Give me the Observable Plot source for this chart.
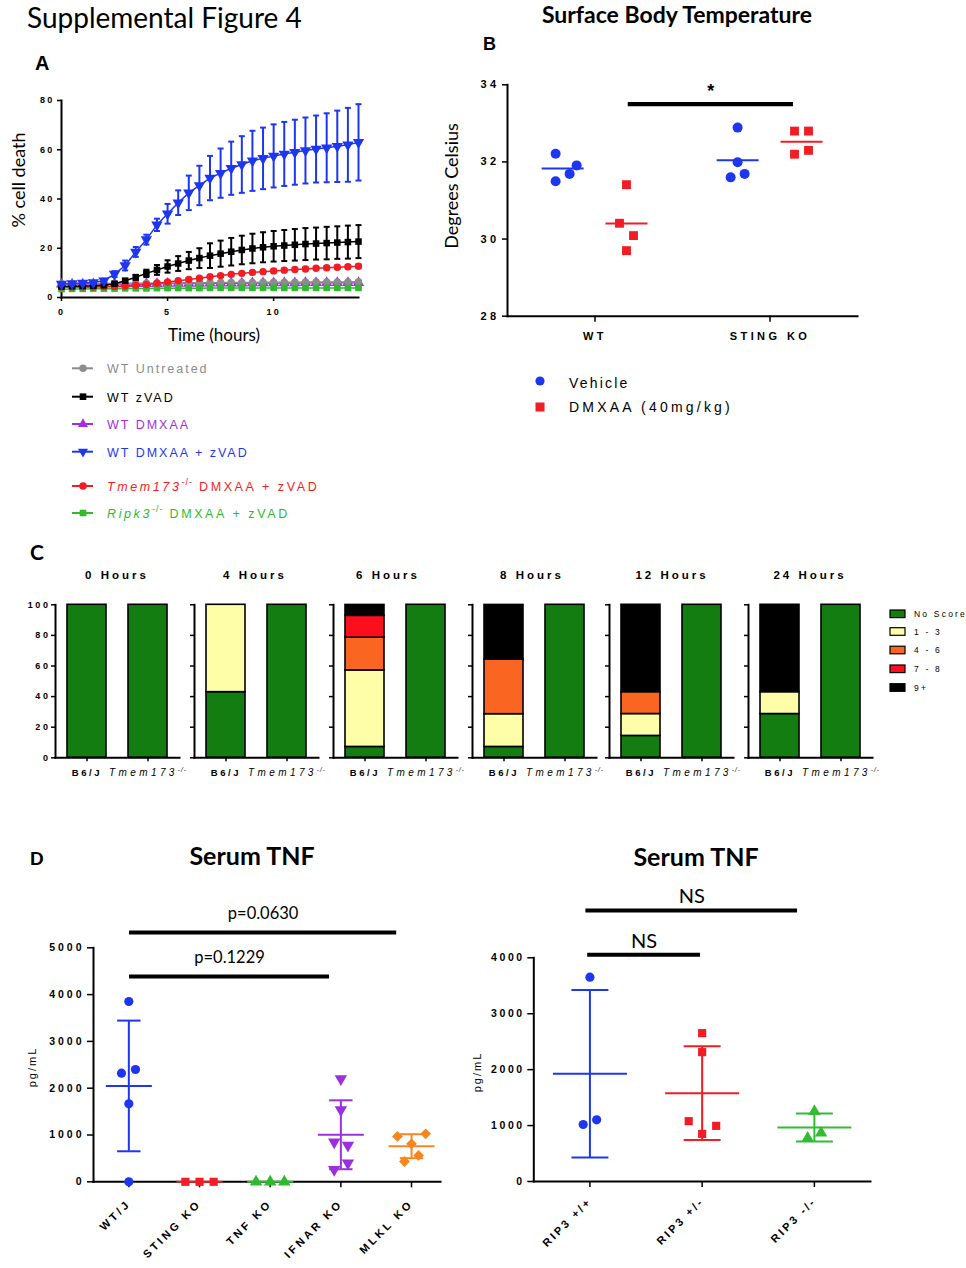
<!DOCTYPE html>
<html>
<head>
<meta charset="utf-8">
<script src="https://cdn.jsdelivr.net/npm/d3@7"></script>
<script src="https://cdn.jsdelivr.net/npm/@observablehq/plot@0.6"></script>
<style>
html,body{margin:0;padding:0;background:#fff;}
#page{position:relative;width:966px;height:1268px;overflow:hidden;background:#fff;}
</style>
</head>
<body>
<div id="page"></div>
<script>
const ARIAL = "'Liberation Sans', Arial, Helvetica, sans-serif";
const LATO = "Lato, 'Open Sans', sans-serif";

// ---------------- Panel A data ----------------
const hours = [0,0.5,1,1.5,2,2.5,3,3.5,4,4.5,5,5.5,6,6.5,7,7.5,8,8.5,9,9.5,10,10.5,11,11.5,12,12.5,13,13.5,14];
const seriesA = ["WT Untreated","WT zVAD","WT DMXAA","WT DMXAA + zVAD","Tmem173-/- DMXAA + zVAD","Ripk3-/- DMXAA + zVAD"];
const grayMean   = [5.6,5.6,5.6,5.7,5.7,5.7,5.8,5.8,5.8,5.9,5.9,5.9,6,6,6,6.1,6.1,6.1,6.1,6.2,6.2,6.2,6.2,6.3,6.3,6.3,6.3,6.3,6.4];
const blackMean  = [4.5,4.6,4.7,4.8,5,5.6,6.8,8.2,9.8,11.2,12.6,13.8,15,16,17,17.8,18.6,19.3,19.9,20.4,20.8,21.1,21.4,21.7,21.9,22.1,22.3,22.5,22.7];
const purpleMean = [5.4,5.4,5.4,5.5,5.5,5.5,5.5,5.6,5.6,5.6,5.7,5.7,5.7,5.7,5.8,5.8,5.8,5.8,5.9,5.9,5.9,5.9,5.9,6,6,6,6,6,6];
const blueMean   = [5.5,5.7,5.9,6.1,6.8,9.5,13,18.5,23.5,29.5,34,38.5,42.5,45.5,48.5,50.5,52.5,54,55.5,56.5,57.5,58.3,59,59.7,60.3,60.8,61.4,62,63];
const redMean    = [4.3,4.3,4.3,4.3,4.4,4.5,4.7,5,5.3,5.8,6.3,6.8,7.3,7.8,8.4,8.9,9.4,9.8,10.2,10.5,10.8,11.1,11.4,11.6,11.9,12.1,12.3,12.5,12.7];
const greenMean  = [3.4,3.5,3.5,3.6,3.6,3.6,3.7,3.7,3.7,3.8,3.8,3.8,3.8,3.8,3.9,3.9,3.9,3.9,3.9,3.9,3.9,3.9,3.9,3.9,3.9,3.9,3.9,3.9,3.9];
const blackSD    = [0.5,0.5,0.5,0.5,0.5,0.6,0.8,1,1.5,2,2.5,3,3.5,4,5,5.3,5.6,5.8,6,6.1,6.2,6.3,6.4,6.5,6.5,6.6,6.6,6.7,6.7];
const blueSD     = [0.6,0.6,0.6,0.6,0.8,1.2,2,2,2,2.5,4,5,7,8,9,10,10.8,11.5,12.2,12.5,12.8,13,13.2,13.4,13.6,14,14.5,15,15.5];
const redSD      = [0.3,0.3,0.3,0.3,0.3,0.3,0.3,0.3,0.3,0.3,0.4,0.4,0.4,0.4,0.4,0.5,0.5,0.5,0.5,0.5,0.6,0.6,0.6,0.6,0.6,0.7,0.7,0.7,0.7];
const lowSD      = [0.3,0.3,0.3,0.3,0.3,0.3,0.3,0.3,0.3,0.3,0.3,0.3,0.3,0.3,0.3,0.3,0.3,0.3,0.3,0.3,0.3,0.3,0.3,0.3,0.3,0.3,0.3,0.3,0.3];
const meansA = [grayMean, blackMean, purpleMean, blueMean, redMean, greenMean];
const sdsA = [lowSD, blackSD, lowSD, blueSD, redSD, lowSD];
const colorsA = ["#8c8c8c","#000000","#a32ee0","#1e36f0","#f21c24","#2fba2f"];
const symbolsA = ["circle","square","triangle","triangle","circle","square"];
const rotateA = [0,0,0,180,0,0];
const drawOrderA = [2,0,5,4,1,3];

// ---------------- Panel B data ----------------
const bGroups = ["WT","STING KO"];
const bTreatments = ["Vehicle","DMXAA (40mg/kg)"];
const bVehicle = [[32.21,31.91,31.69,31.5],[32.89,31.99,31.69,31.6]];
const bDmxaa   = [[31.41,30.41,30.09,29.70],[32.8,32.8,32.2,32.3]];
const bVehicleJitter = [[-0.04,0.08,0.04,-0.04],[0,0,0.04,-0.04]];
const bDmxaaJitter   = [[0,-0.04,0.04,0],[-0.04,0.04,-0.04,0.04]];
const bSigFrom = [1.19], bSigTo = [2.134], bSigAt = [33.5], bSigLabel = ["*"];

// ---------------- Panel C data ----------------
const cTimes = ["0 Hours","4 Hours","6 Hours","8 Hours","12 Hours","24 Hours"];
const cGenotypes = ["B6/J","Tmem173-/-"];
const cScores = ["No Score","1 - 3","4 - 6","7 - 8","9+"];
const b6Scores = [[100,0,0,0,0],[42.9,57.1,0,0,0],[7.1,50,21.4,14.3,7.1],[7.1,21.4,35.7,0,35.7],[14.3,14.3,14.3,0,57.1],[28.6,14.3,0,0,57.1]];
const tmemScores = [[100,0,0,0,0],[100,0,0,0,0],[100,0,0,0,0],[100,0,0,0,0],[100,0,0,0,0],[100,0,0,0,0]];
const cColors = ["#137d12","#fefea8","#fa6521","#fb0f1c","#000000"];

// ---------------- Panel D data ----------------
const dCats = ["WT/J","STING KO","TNF KO","IFNAR KO","MLKL KO"];
const dVals = [[3853,2400,2322,1667,0],[0,0,0],[0,0,0],[2200,1540,850,780,400,260],[969,1025,812,563,434]];
const dJitter = [[0,0.094,-0.104,0,0],[-0.2,0,0.2],[-0.2,0,0.2],[0,0,-0.094,0.1,0.1,-0.094],[-0.2,0.2,0,0.1,-0.1]];
const dSigFrom = [0.01,0.01], dSigTo = [2.84,3.79], dSigAt = [4387,5327], dSigLabel = ["p=0.1229","p=0.0630"];
const dColors = ["#1e36f0","#f21c24","#2dbb2d","#9b30de","#f7861e"];
const dSymbols = ["circle","square","triangle","triangle","square"];
const dRotate = [0,0,0,180,45];

const rCats = ["RIP3 +/+","RIP3 +/-","RIP3 -/-"];
const rVals = [[3654,1019,1103],[2653,2313,1079,995,852],[1252,870,775]];
const rJitter = [[0,-0.06,0.06],[0,0,-0.12,0.125,0],[0,0.06,-0.06]];
const rSigFrom = [-0.02,-0.036], rSigTo = [0.985,1.85], rSigAt = [4054,4846], rSigLabel = ["NS","NS"];
const rColors = ["#1e36f0","#f21c24","#33bb33"];
const rSymbols = ["circle","square","triangle"];

// ---------------- helpers ----------------
const page = document.getElementById("page");
const SVGNS = "http://www.w3.org/2000/svg";
const cap = {draw(ctx, size) { const r = Math.sqrt(size / Math.PI); ctx.moveTo(-r, 0); ctx.lineTo(r, 0); }};
const noteTexts = new Set([...bSigLabel, ...dSigLabel, ...rSigLabel]);

function place(box, frame, opts, extraStyle) {
  const svg = Plot.plot(Object.assign({
    width: box.width, height: box.height,
    marginLeft: frame.x0 - box.left,
    marginRight: box.left + box.width - frame.x1,
    marginTop: frame.y0 - box.top,
    marginBottom: box.top + box.height - frame.y1,
    style: Object.assign({position: "absolute", left: box.left + "px", top: box.top + "px",
      background: "transparent", overflow: "visible", fontFamily: ARIAL, fontWeight: "bold",
      color: "#000", maxWidth: "none"}, extraStyle || {})
  }, opts));
  svg.querySelectorAll("text").forEach(t => { if (noteTexts.has(t.textContent)) t.style.letterSpacing = "0px"; });
  page.appendChild(svg);
  return svg;
}

function sigRows(from, to, at, labels) {
  return from.map((f, i) => ({x1: f, x2: to[i], y: at[i], label: labels[i]}));
}

// ---------------- Panel A ----------------
{
  const marks = [Plot.frame({anchor: "left", strokeWidth: 2}), Plot.frame({anchor: "bottom", strokeWidth: 2}),
    Plot.axisY({ticks: [0,20,40,60,80], tickSize: 4, tickPadding: 3, label: null, strokeWidth: 1.5}),
    Plot.axisX({ticks: [0,5,10], tickSize: 4, tickPadding: 7, label: null, strokeWidth: 1.5})];
  drawOrderA.forEach(k => {
    const rows = hours.map((t, i) => ({t, m: meansA[k][i], sd: sdsA[k][i]}));
    const c = colorsA[k];
    marks.push(
      Plot.ruleX(rows, {x: "t", y1: d => d.m - d.sd, y2: d => d.m + d.sd, stroke: c, strokeWidth: 2}),
      Plot.dot(rows, {x: "t", y: d => d.m + d.sd, symbol: cap, r: 3, stroke: c, strokeWidth: 2, fill: "none"}),
      Plot.dot(rows, {x: "t", y: d => d.m - d.sd, symbol: cap, r: 3, stroke: c, strokeWidth: 2, fill: "none"}),
      Plot.line(rows, {x: "t", y: "m", stroke: c, strokeWidth: 1.5}),
      Plot.dot(rows, {x: "t", y: "m", symbol: symbolsA[k], rotate: rotateA[k], r: symbolsA[k] === "triangle" ? 4.2 : 3.7, fill: c, stroke: "none"})
    );
  });
  place({left: 0, top: 80, width: 370, height: 275}, {x0: 61, x1: 358, y0: 100, y1: 297}, {
    x: {type: "linear", domain: [0, 14]},
    y: {type: "linear", domain: [0, 80]},
    marks
  }, {fontSize: "9px", letterSpacing: "2.2px"});
}

// ---------------- Panel B ----------------
{
  const pts = [];
  bGroups.forEach((g, gi) => {
    bVehicle[gi].forEach((v, j) => pts.push({x: gi + 1 - 0.185 + bVehicleJitter[gi][j], y: v, t: 0}));
    bDmxaa[gi].forEach((v, j) => pts.push({x: gi + 1 + 0.18 + bDmxaaJitter[gi][j], y: v, t: 1}));
  });
  const means = [];
  bGroups.forEach((g, gi) => {
    means.push({x: gi + 1 - 0.185, y: d3.mean(bVehicle[gi]), t: 0});
    means.push({x: gi + 1 + 0.18, y: d3.mean(bDmxaa[gi]), t: 1});
  });
  const sig = sigRows(bSigFrom, bSigTo, bSigAt, bSigLabel);
  place({left: 440, top: 60, width: 430, height: 300}, {x0: 507, x1: 857, y0: 84.3, y1: 315.7}, {
    x: {type: "linear", domain: [0.5, 2.5]},
    y: {type: "linear", domain: [28, 34]},
    marks: [
      Plot.frame({anchor: "left", strokeWidth: 2}), Plot.frame({anchor: "bottom", strokeWidth: 2}),
      Plot.axisY({ticks: [28,30,32,34], tickFormat: d => String(d), tickSize: 5, tickPadding: 3, label: null, strokeWidth: 1.5}),
      Plot.axisX({ticks: [1,2], tickFormat: d => bGroups[d - 1], tickSize: 6, tickPadding: 10, label: null, strokeWidth: 1.5}),
      Plot.ruleY(sig, {x1: "x1", x2: "x2", y: "y", strokeWidth: 4.3}),
      Plot.text(sig, {x: d => (d.x1 + d.x2) / 2, y: "y", text: "label", dy: -13, fontSize: 18, fontWeight: "bold", fontFamily: ARIAL}),
      Plot.dot(means.filter(d => d.t === 0), {x: "x", y: "y", symbol: cap, r: 21, stroke: dColors[0], strokeWidth: 2, fill: "none"}),
      Plot.dot(means.filter(d => d.t === 1), {x: "x", y: "y", symbol: cap, r: 21, stroke: dColors[1], strokeWidth: 2, fill: "none"}),
      Plot.dot(pts.filter(d => d.t === 0), {x: "x", y: "y", symbol: "circle", r: 5, fill: dColors[0]}),
      Plot.dot(pts.filter(d => d.t === 1), {x: "x", y: "y", symbol: "square", r: 5, fill: dColors[1]})
    ]
  }, {fontSize: "11px", letterSpacing: "3.4px"});
}

// ---------------- Panel C ----------------
const cAxisX = [55, 194.3, 333, 472, 609.3, 747.7];
cTimes.forEach((time, k) => {
  const rows = [];
  cGenotypes.forEach((g, gi) => {
    const vals = gi === 0 ? b6Scores[k] : tmemScores[k];
    cScores.forEach((s, si) => { if (vals[si] > 0) rows.push({g, s, v: vals[si]}); });
  });
  const ax = cAxisX[k];
  const svg = place({left: ax - 52, top: 590, width: 190, height: 200}, {x0: ax, x1: ax + 124, y0: 604.3, y1: 757.3}, {
    x: {type: "band", domain: cGenotypes, paddingInner: 0.364, paddingOuter: 0.186},
    y: {type: "linear", domain: [0, 100]},
    color: {domain: cScores, range: cColors},
    marks: [
      Plot.barY(rows, {x: "g", y: "v", fill: "s", stroke: "#000", strokeWidth: 1.6}),
      Plot.frame({anchor: "left", strokeWidth: 2}), Plot.frame({anchor: "bottom", strokeWidth: 2}),
      Plot.axisY({ticks: [0,20,40,60,80,100], tickSize: 4, tickPadding: 1, label: null, strokeWidth: 1.5,
        tickFormat: k === 0 ? (d => String(d)) : (() => "")}),
      Plot.axisX({tickSize: 4, tickPadding: 7, label: null, strokeWidth: 1.5})
    ]
  }, {fontSize: "9px", letterSpacing: "2.6px"});
  svg.querySelectorAll("text").forEach(t => {
    if (t.textContent === "B6/J") { t.style.fontSize = "9.5px"; }
    if (t.textContent === "Tmem173-/-") {
      t.textContent = "";
      t.setAttribute("font-style", "italic");
      t.style.fontWeight = "normal";
      t.style.fontSize = "10px";
      t.style.letterSpacing = "3.4px";
      const a = document.createElementNS(SVGNS, "tspan");
      a.textContent = "Tmem173";
      const b = document.createElementNS(SVGNS, "tspan");
      b.textContent = "-/-"; b.setAttribute("dy", "-4"); b.setAttribute("font-size", "6.5"); b.style.letterSpacing = "1px";
      t.appendChild(a); t.appendChild(b);
    }
  });
});

// ---------------- Panel D ----------------
function scatterMarks(cats, vals, jitter, colors, symbols, rotates, meanR, capR) {
  const marks = [];
  cats.forEach((c, i) => {
    const pts = vals[i].map((v, j) => ({x: i + jitter[i][j], y: v}));
    const s = {x: i, m: d3.mean(vals[i]), sd: d3.deviation(vals[i]) || 0};
    const col = colors[i];
    if (s.sd > 0) {
      marks.push(
        Plot.ruleX([s], {x: "x", y1: d => d.m - d.sd, y2: d => d.m + d.sd, stroke: col, strokeWidth: 2}),
        Plot.dot([s], {x: "x", y: d => d.m + d.sd, symbol: cap, r: capR, stroke: col, strokeWidth: 2, fill: "none"}),
        Plot.dot([s], {x: "x", y: d => d.m - d.sd, symbol: cap, r: capR, stroke: col, strokeWidth: 2, fill: "none"})
      );
    }
    marks.push(
      Plot.dot([s], {x: "x", y: "m", symbol: cap, r: meanR, stroke: col, strokeWidth: 2, fill: "none"}),
      Plot.dot(pts, {x: "x", y: "y", symbol: symbols[i], rotate: rotates[i], r: symbols[i] === "square" ? (rotates[i] ? 4.3 : 4.6) : 4.6, fill: col})
    );
  });
  return marks;
}

{
  const sig = sigRows(dSigFrom, dSigTo, dSigAt, dSigLabel);
  place({left: 0, top: 880, width: 450, height: 388}, {x0: 93, x1: 440, y0: 947.3, y1: 1181.3}, {
    x: {type: "linear", domain: [-0.5, 4.41]},
    y: {type: "linear", domain: [0, 5000]},
    marks: [
      Plot.ruleY(sig, {x1: "x1", x2: "x2", y: "y", strokeWidth: 4}),
      Plot.text(sig, {x: d => (d.x1 + d.x2) / 2, y: "y", text: "label", dy: -18.5, fontSize: 16.5, fontWeight: "normal", fontFamily: LATO}),
      Plot.frame({anchor: "left", strokeWidth: 2}), Plot.frame({anchor: "bottom", strokeWidth: 2}),
      Plot.axisY({ticks: [0,1000,2000,3000,4000,5000], tickFormat: d => String(d), tickSize: 6, tickPadding: 3, label: null, strokeWidth: 1.5}),
      Plot.axisX({ticks: [0,1,2,3,4], tickFormat: i => dCats[i], tickRotate: -45, tickSize: 6, tickPadding: 14, label: null, strokeWidth: 1.5, fontSize: 11}),
      ...scatterMarks(dCats, dVals, dJitter, dColors, dSymbols, dRotate, 23, 11.7)
    ]
  }, {fontSize: "10.5px", letterSpacing: "3px"});
}
{
  const sig = sigRows(rSigFrom, rSigTo, rSigAt, rSigLabel);
  place({left: 455, top: 880, width: 420, height: 388}, {x0: 533.3, x1: 870, y0: 957.3, y1: 1181}, {
    x: {type: "linear", domain: [-0.5, 2.5]},
    y: {type: "linear", domain: [0, 4000]},
    marks: [
      Plot.ruleY(sig, {x1: "x1", x2: "x2", y: "y", strokeWidth: 4}),
      Plot.text(sig, {x: d => (d.x1 + d.x2) / 2, y: "y", text: "label", dy: -13.5, fontSize: 20, fontWeight: "normal", fontFamily: LATO}),
      Plot.frame({anchor: "left", strokeWidth: 2}), Plot.frame({anchor: "bottom", strokeWidth: 2}),
      Plot.axisY({ticks: [0,1000,2000,3000,4000], tickFormat: d => String(d), tickSize: 6, tickPadding: 3, label: null, strokeWidth: 1.5}),
      Plot.axisX({ticks: [0,1,2], tickFormat: i => rCats[i], tickRotate: -45, tickSize: 6, tickPadding: 12, label: null, strokeWidth: 1.5, fontSize: 11}),
      ...scatterMarks(rCats, rVals, rJitter, rColors, rSymbols, [0,0,0], 37, 18.5)
    ]
  }, {fontSize: "10.5px", letterSpacing: "2.6px"});
}

// ---------------- Overlay text & legends ----------------
const ov = d3.select(page).append("svg").attr("width", 966).attr("height", 1268)
  .style("position", "absolute").style("left", 0).style("top", 0).style("pointer-events", "none").style("overflow", "visible");

function T(x, y, s, o = {}) {
  const t = ov.append("text").attr("x", x).attr("y", y)
    .attr("font-family", o.family || ARIAL)
    .attr("font-size", o.size || 12)
    .attr("font-weight", o.weight || "normal")
    .attr("text-anchor", o.anchor || "start")
    .attr("fill", o.fill || "#000")
    .style("letter-spacing", (o.ls || 0) + "px");
  if (o.rotate) t.attr("transform", `rotate(${o.rotate},${x},${y})`);
  if (Array.isArray(s)) {
    let shift = 0;
    s.forEach(p => {
      const ts = t.append("tspan").text(p.t);
      if (p.italic) ts.attr("font-style", "italic");
      if (p.sup) { ts.attr("font-size", p.size || 9).attr("dy", -5.5).style("letter-spacing", "1px"); shift = 5.5; }
      else if (shift) { ts.attr("dy", shift); shift = 0; }
    });
  } else t.text(s);
  return t;
}

T(27, 28, "Supplemental Figure 4", {family: LATO, size: 28});
T(35, 70, "A", {size: 20, weight: "bold"});
T(677, 23, "Surface Body Temperature", {family: LATO, size: 23, weight: "bold", anchor: "middle"});
T(483, 50, "B", {size: 18, weight: "bold"});
T(30, 560, "C", {family: LATO, size: 21, weight: "bold"});
T(30, 865, "D", {size: 19, weight: "bold"});

T(25, 180, "% cell death", {family: LATO, size: 18, anchor: "middle", rotate: -90});
T(214, 341, "Time (hours)", {family: LATO, size: 17, anchor: "middle"});
T(458, 186, "Degrees Celsius", {family: LATO, size: 18, anchor: "middle", rotate: -90});
T(36, 1067, "pg/mL", {size: 11, ls: 2, anchor: "middle", rotate: -90});
T(481, 1072, "pg/mL", {size: 11, ls: 2, anchor: "middle", rotate: -90});
T(252, 865, "Serum TNF", {family: LATO, size: 25, weight: "bold", anchor: "middle"});
T(696, 866, "Serum TNF", {family: LATO, size: 25, weight: "bold", anchor: "middle"});

// Panel A legend
const sym = {circle: d3.symbolCircle, square: d3.symbolSquare, triangle: d3.symbolTriangle};
const legAY = [368.3, 396.7, 424, 451.7, 486, 513];
const legAText = [
  [{t: "WT Untreated"}], [{t: "WT zVAD"}], [{t: "WT DMXAA"}], [{t: "WT DMXAA + zVAD"}],
  [{t: "Tmem173", italic: true}, {t: "-/-", sup: true}, {t: " DMXAA + zVAD"}],
  [{t: "Ripk3", italic: true}, {t: "-/-", sup: true}, {t: " DMXAA + zVAD"}]
];
seriesA.forEach((s, k) => {
  const y = legAY[k], c = colorsA[k];
  ov.append("line").attr("x1", 72).attr("x2", 93).attr("y1", y).attr("y2", y).attr("stroke", c).attr("stroke-width", 2);
  ov.append("path").attr("d", d3.symbol(sym[symbolsA[k]], Math.PI * 14)())
    .attr("transform", `translate(83,${y}) rotate(${rotateA[k]})`).attr("fill", c);
  T(107, y + 4.8, legAText[k], {size: 12.5, ls: k >= 4 ? 2.6 : 2, fill: c});
});

// Panel B legend
ov.append("circle").attr("cx", 540).attr("cy", 381).attr("r", 4.6).attr("fill", dColors[0]);
ov.append("rect").attr("x", 535.5).attr("y", 402.5).attr("width", 9).attr("height", 9).attr("fill", dColors[1]);
T(569, 388, bTreatments[0], {size: 14, ls: 2.2});
T(569, 412, bTreatments[1], {size: 14, ls: 3.2});

// Panel C titles & legend
const cTitleX = [117, 255, 388, 532, 672, 810];
cTimes.forEach((t, k) => T(cTitleX[k], 579, t, {size: 11.5, weight: "bold", ls: 3, anchor: "middle"}));
const legCY = [613.8, 631.5, 650, 668.8, 687.5];
cScores.forEach((s, k) => {
  ov.append("rect").attr("x", 890).attr("y", legCY[k] - 3.8).attr("width", 15).attr("height", 7.6)
    .attr("fill", cColors[k]).attr("stroke", "#000").attr("stroke-width", 1.2);
  T(914, legCY[k] + 3, s, {size: 8.5, ls: 2.2});
});
</script>
</body>
</html>
